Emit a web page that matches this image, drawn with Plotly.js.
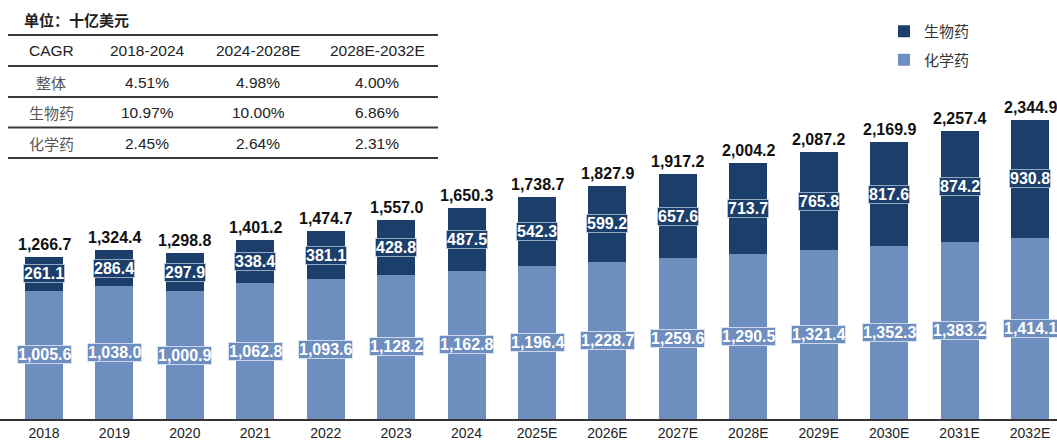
<!DOCTYPE html>
<html>
<head>
<meta charset="utf-8">
<script src="https://cdn.plot.ly/plotly-3.0.1.min.js"></script>
<style>html,body{margin:0;padding:0;background:#fff;}#chart{width:1057px;height:442px;}</style>
</head>
<body>
<div id="chart"></div>
<script>
// ---- data ----
const years = ['2018','2019','2020','2021','2022','2023','2024','2025E','2026E','2027E','2028E','2029E','2030E','2031E','2032E'];
const chemValues = [1005.6,1038.0,1000.9,1062.8,1093.6,1128.2,1162.8,1196.4,1228.7,1259.6,1290.5,1321.4,1352.3,1383.2,1414.1];
const bioValues = [261.1,286.4,297.9,338.4,381.1,428.8,487.5,542.3,599.2,657.6,713.7,765.8,817.6,874.2,930.8];
const totalValues = [1266.7,1324.4,1298.8,1401.2,1474.7,1557.0,1650.3,1738.7,1827.9,1917.2,2004.2,2087.2,2169.9,2257.4,2344.9];
const seriesNames = ['生物药','化学药'];
const unitLabel = '单位：十亿美元';
const cagrHeader = ['CAGR','2018-2024','2024-2028E','2028E-2032E'];
const cagrRowLabels = ['整体','生物药','化学药'];
const cagrOverall = ['4.51%','4.98%','4.00%'];
const cagrBio = ['10.97%','10.00%','6.86%'];
const cagrChem = ['2.45%','2.64%','2.31%'];

// ---- style ----
const W = 1057, H = 442, MB = 23, PH = H - MB;
const darkBlue = '#1c3e6b';
const lightBlue = '#6e8ec0';
const latin = '"Liberation Sans", Arial, sans-serif';
const cjk = '"Noto Sans CJK SC", "Noto Sans", sans-serif';
const fmt = v => v.toLocaleString('en-US', {minimumFractionDigits: 1, maximumFractionDigits: 1});
const px = x => x / W;
const py = y => 1 - y / PH;

const traces = [
  {type: 'bar', name: seriesNames[1], x: years, y: chemValues, marker: {color: lightBlue}, width: 0.54, hoverinfo: 'skip', legendgroup: 'c', legendrank: 2},
  {type: 'bar', name: seriesNames[0], x: years, y: bioValues, marker: {color: darkBlue}, width: 0.54, hoverinfo: 'skip', legendgroup: 'b', legendrank: 1}
];

const annotations = [];
years.forEach((yr, i) => {
  // category index used as x position (category names look numeric)
  annotations.push({x: i, y: chemValues[i] / 2, xref: 'x', yref: 'y', text: fmt(chemValues[i]), showarrow: false,
    font: {family: latin, size: 16, color: '#ffffff', weight: 'bold'}, bgcolor: lightBlue,
    bordercolor: 'rgba(225,232,245,0.8)', borderwidth: 1, borderpad: 0});
  annotations.push({x: i, y: chemValues[i] + bioValues[i] / 2, xref: 'x', yref: 'y', text: fmt(bioValues[i]), showarrow: false,
    font: {family: latin, size: 16, color: '#ffffff', weight: 'bold'}, bgcolor: darkBlue,
    bordercolor: 'rgba(200,212,230,0.7)', borderwidth: 1, borderpad: 0});
  annotations.push({x: i, y: chemValues[i] + bioValues[i], xref: 'x', yref: 'y', text: fmt(totalValues[i]), showarrow: false,
    yanchor: 'bottom', yshift: 2, font: {family: latin, size: 16, color: '#111111', weight: 'bold'}});
});

// unit label
annotations.push({xref: 'paper', yref: 'paper', x: px(22), y: py(20), xanchor: 'left', yanchor: 'middle', text: unitLabel,
  showarrow: false, font: {family: cjk, size: 15, color: '#222', weight: 'bold'}});

// CAGR table
const colX = [51, 147, 258, 377];
const rowY = [50.5, 82, 112.5, 143];
const lineY = [35, 66, 97, 127.5, 158];
cagrHeader.forEach((t, c) => annotations.push({xref: 'paper', yref: 'paper', x: px(colX[c]), y: py(rowY[0]), text: t,
  showarrow: false, xanchor: 'center', yanchor: 'middle', font: {family: latin, size: 15.5, color: '#222'}}));
const rowsData = [cagrOverall, cagrBio, cagrChem];
cagrRowLabels.forEach((lab, r) => {
  annotations.push({xref: 'paper', yref: 'paper', x: px(colX[0]), y: py(rowY[r + 1]), text: lab, showarrow: false,
    xanchor: 'center', yanchor: 'middle', font: {family: cjk, size: 15, color: '#555'}});
  rowsData[r].forEach((v, c) => annotations.push({xref: 'paper', yref: 'paper', x: px(colX[c + 1]), y: py(rowY[r + 1]), text: v,
    showarrow: false, xanchor: 'center', yanchor: 'middle', font: {family: latin, size: 15.5, color: '#222'}}));
});
const shapes = lineY.map(y => ({type: 'line', xref: 'paper', yref: 'paper', x0: px(8), x1: px(438), y0: py(y), y1: py(y),
  line: {color: '#3a3a3a', width: 2}}));

const layout = {
  width: W, height: H,
  margin: {l: 0, r: 0, t: 0, b: MB, pad: 0},
  paper_bgcolor: '#ffffff', plot_bgcolor: '#ffffff',
  barmode: 'stack',
  showlegend: true,
  legend: {x: px(884), y: py(15), xanchor: 'left', yanchor: 'top', traceorder: 'grouped', tracegroupgap: 6,
    font: {family: cjk, size: 15, color: '#333'}, bgcolor: 'rgba(0,0,0,0)'},
  xaxis: {type: 'category', range: [-0.625, 14.383], showline: true, linecolor: '#333', linewidth: 2,
    ticks: '', showgrid: false, zeroline: false,
    tickfont: {family: latin, size: 14, color: '#222'}, fixedrange: true},
  yaxis: {range: [0, 3281], visible: false, showgrid: false, zeroline: false, fixedrange: true},
  annotations: annotations,
  shapes: shapes
};

Plotly.newPlot('chart', traces, layout, {staticPlot: true, displayModeBar: false});
</script>
</body>
</html>
